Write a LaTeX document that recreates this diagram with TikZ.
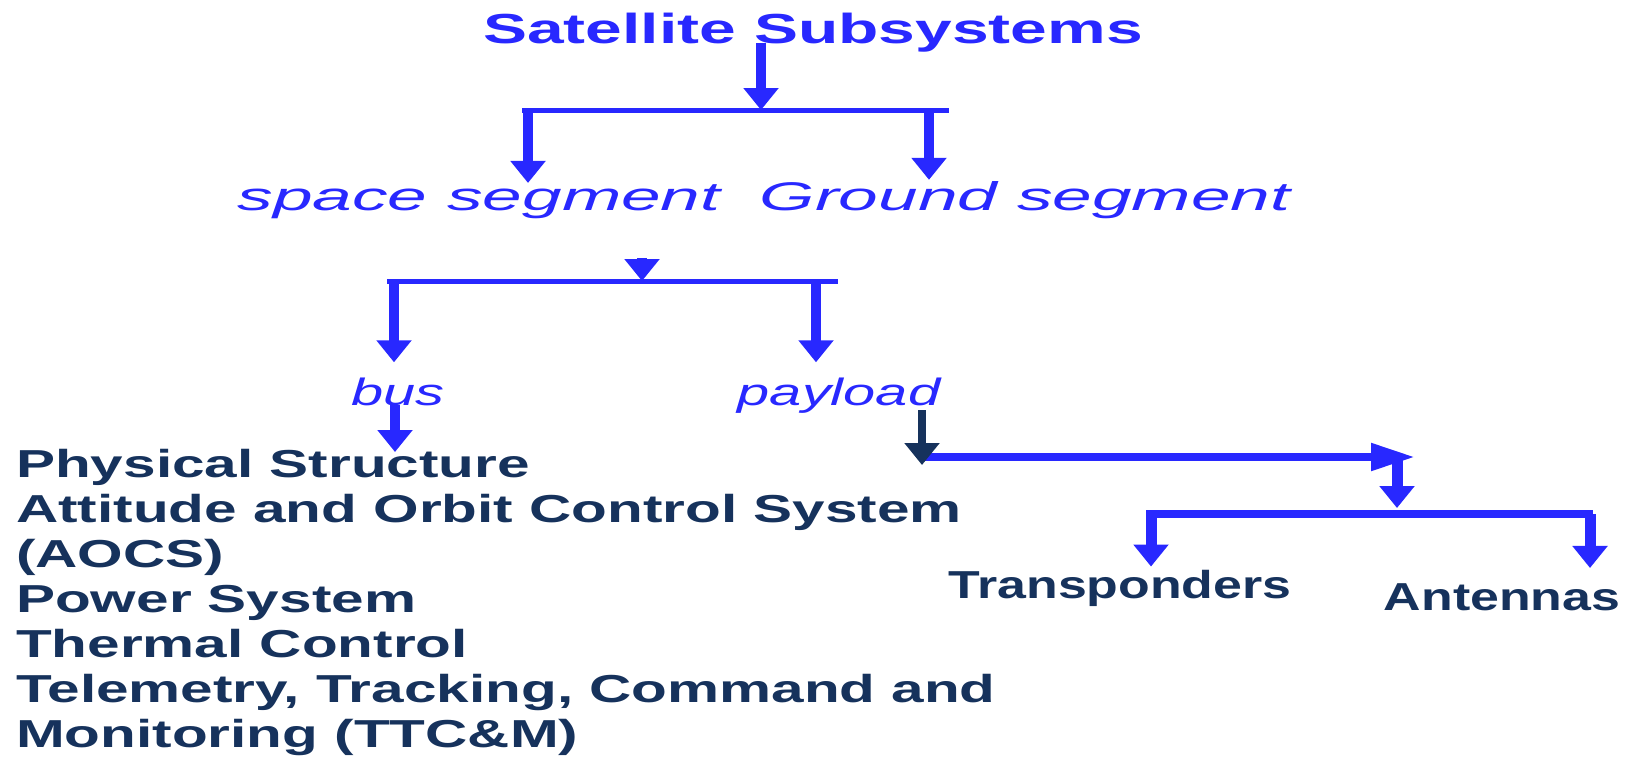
\documentclass[tikz,border=0pt]{standalone}
\usepackage{fontspec}
\setmainfont{Liberation Sans}
\newfontfamily\headfont[FakeStretch=1.57]{Liberation Sans}
\newfontfamily\segfont[FakeStretch=1.78]{Liberation Sans}
\newfontfamily\partfont[FakeStretch=1.52]{Liberation Sans}
\newfontfamily\listfont[FakeStretch=1.5]{Liberation Sans}
\newfontfamily\unitfont[FakeStretch=1.33]{Liberation Sans}
\usepackage{tikz}
\usetikzlibrary{calc}
\usetikzlibrary{arrows.meta}
\definecolor{linkblue}{RGB}{40,40,255}
\definecolor{textnavy}{RGB}{22,50,92}

\begin{document}
\begin{tikzpicture}[x=1pt, y=-1pt,
    headtext/.style={inner sep=0, anchor=base, text=linkblue, font={\headfont\bfseries\fontsize{42}{48}\selectfont}},
    segtext/.style={inner sep=0, anchor=base, text=linkblue, font={\segfont\itshape\fontsize{40}{46}\selectfont}},
    parttext/.style={inner sep=0, anchor=base, text=linkblue, font={\partfont\itshape\fontsize{38}{44}\selectfont}},
    unittext/.style={inner sep=0, anchor=base, text=textnavy, font={\unitfont\bfseries\fontsize{39}{45}\selectfont}},
    listtext/.style={inner sep=0, anchor=north west, align=left, text=textnavy, font={\listfont\bfseries\fontsize{39}{45}\selectfont}},
    link/.style={draw=linkblue, line width=10pt, -{Triangle[length=22pt, width=34pt]}},
    darklink/.style={link, draw=textnavy, line width=8pt},
    bar/.style={draw=linkblue, line width=5pt}]
    \useasboundingbox (0,0) rectangle (1637,758);

    \node[headtext] (sat) at (813,43) {Satellite Subsystems};
    \node[segtext] (space) at (479,210) {space segment};
    \node[segtext] (ground) at (1025,210) {Ground segment};
    \node[parttext] (bus) at (398,405) {bus};
    \node[parttext] (payload) at (839,405) {payload};
    \node[listtext] (items) at (16,449) {Physical Structure\\
        Attitude and Orbit Control System\\
        (AOCS)\\
        Power System\\
        Thermal Control\\
        Telemetry, Tracking, Command and\\
        Monitoring (TTC\&M)};
    \node[unittext] (trans) at (1120,598) {Transponders};
    \node[unittext] (ant) at (1502,610) {Antennas};

    \coordinate (j0) at (761,110);
    \draw[link] (sat.base -| j0) -- (j0);
    \draw[bar] ($(j0)+(-239,0)$) -- ($(j0)+(188,0)$);
    \foreach \n/\dx in {space/-233, ground/168}
    {
        \coordinate (\n-in) at ($(j0)+(\dx,0)$);
        \draw[link] (\n-in) -- ($(\n-in |- \n.north)+(0,-1)$);
    }

    \coordinate (j1) at (642,281);
    \draw[link] ($(j1)+(0,-23)$) -- (j1);
    \draw[bar] ($(j1)+(-255,0)$) -- ($(j1)+(196,0)$);
    \foreach \n/\dx in {bus/-248, payload/174}
    {
        \coordinate (\n-in) at ($(j1)+(\dx,0)$);
        \draw[link] (\n-in) -- ($(\n-in |- \n.north)+(0,-15)$);
    }

    \coordinate (busout) at ($(bus.base)+(-3,0)$);
    \draw[link] (busout) -- ($(busout |- items.north)+(0,3)$);

    \coordinate (p0) at ($(payload.base)+(83,0)$);
    \coordinate (j2) at (1397,457);
    \draw[bar, line width=8pt, -{Triangle[length=44pt, width=26pt]}] (p0 |- j2) -- ($(j2)+(18,0)$);
    \draw[link, line width=11pt] (j2) -- ($(j2)+(0,51)$);
    \coordinate (j3) at (1397,514);
    \draw[bar, line width=8pt] ($(j3)+(-251,0)$) -- ($(j3)+(196,0)$);
    \foreach \n/\dx/\dy in {trans/-246/-3, ant/193/-15}
    {
        \coordinate (\n-in) at ($(j3)+(\dx,0)$);
        \draw[link, line width=11pt] (\n-in) -- ($(\n-in |- \n.north)+(0,\dy)$);
    }
    \draw[darklink] ($(p0)+(0,5)$) -- ($(p0)+(0,60)$);
\end{tikzpicture}
\end{document}
